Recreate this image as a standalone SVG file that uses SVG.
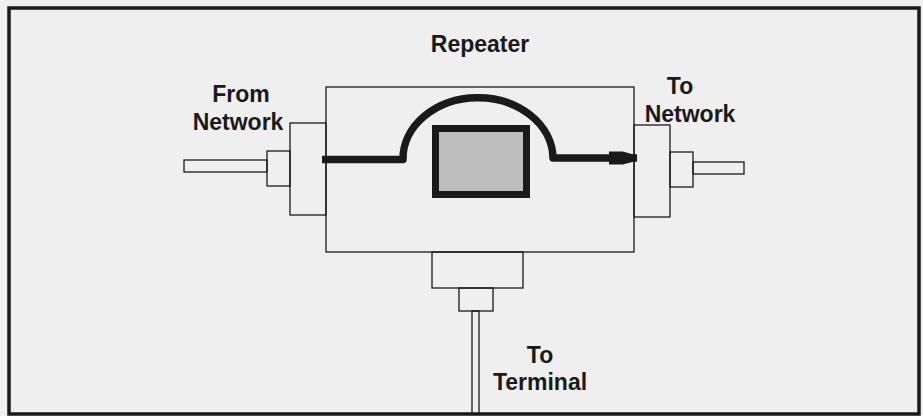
<svg xmlns="http://www.w3.org/2000/svg" width="923" height="416" viewBox="0 0 923 416">
<style>
.part{fill:none;stroke:#1a1a1a;stroke-width:1.3}
.lbl{font-family:"Liberation Sans",Arial,sans-serif;font-weight:bold;font-size:23px;fill:#1a1a1a}
.thick{fill:none;stroke:#1a1a1a;stroke-width:7.5;stroke-linejoin:round}
</style>
<defs>
<marker id="arr" viewBox="0 0 10 10" refX="10" refY="5" markerWidth="3.8" markerHeight="1.75" markerUnits="strokeWidth" orient="auto" preserveAspectRatio="none">
<path d="M0,0 L5,0 L10,3 L10,7 L5,10 L0,10 Z" fill="#1a1a1a"/>
</marker>
</defs>
<rect x="0" y="0" width="923" height="416" fill="#efefef"/>
<rect x="9" y="8" width="910" height="406" fill="#efefef" stroke="#1a1a1a" stroke-width="3.5"/>
<g id="repeater">
<rect class="part" x="326" y="87" width="308" height="165"/>
<rect x="435.5" y="128.5" width="91" height="66" fill="#bdbdbd" stroke="#1a1a1a" stroke-width="7"/>
<text class="lbl" x="480" y="52" text-anchor="middle">Repeater</text>
</g>
<g id="from-network">
<rect class="part" x="290" y="123" width="36" height="92"/>
<rect class="part" x="267" y="151" width="23" height="35"/>
<rect class="part" x="184" y="160" width="83" height="12"/>
<text class="lbl" x="241" y="102" text-anchor="middle">From</text>
<text class="lbl" x="238" y="130" text-anchor="middle">Network</text>
</g>
<g id="to-network">
<rect class="part" x="634" y="125" width="36" height="92"/>
<rect class="part" x="670" y="152" width="23" height="35"/>
<rect class="part" x="693" y="162" width="51" height="12"/>
<text class="lbl" x="680" y="94" text-anchor="middle">To</text>
<text class="lbl" x="690" y="122" text-anchor="middle">Network</text>
</g>
<g id="to-terminal">
<rect class="part" x="432" y="252" width="91" height="36"/>
<rect class="part" x="459" y="288" width="34" height="23"/>
<rect class="part" x="472" y="311" width="7" height="103"/>
<text class="lbl" x="540" y="363" text-anchor="middle">To</text>
<text class="lbl" x="540" y="390" text-anchor="middle">Terminal</text>
</g>
<g id="connectors">
<path class="thick" d="M322,159.5 H403 A75,61 0 0 1 553,158 H637" marker-end="url(#arr)"/>
</g>
</svg>
